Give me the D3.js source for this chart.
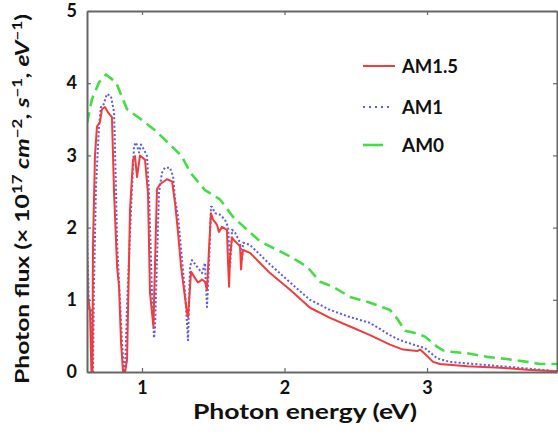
<!DOCTYPE html>
<html>
<head>
<meta charset="utf-8">
<script src="https://cdn.jsdelivr.net/npm/d3@7"></script>
<style>
  html, body { margin: 0; padding: 0; background: #fff; }
  svg { display: block; }
  text { font-family: Lato, "Open Sans", "Liberation Sans", sans-serif; font-weight: bold; fill: #111; }
</style>
</head>
<body>
<svg id="chart" width="558" height="439"></svg>
<script>
// ---- data (photon energy in eV, photon flux in 1e17 cm^-2 s^-1 eV^-1) ----
const am15 = [
  [0.614,1.69],[0.621,1.05],[0.635,0.85],[0.645,0.0],[0.652,0.0],[0.656,1.74],[0.670,3.0],
  [0.684,3.40],[0.705,3.46],[0.719,3.64],[0.740,3.67],[0.760,3.60],[0.789,3.53],[0.804,2.48],
  [0.825,1.46],[0.839,1.18],[0.853,0.4],[0.867,0.0],[0.881,0.0],[0.895,0.17],[0.916,2.25],
  [0.937,2.94],[0.951,2.99],[0.965,2.70],[0.986,3.0],[1.021,2.94],[1.042,2.48],[1.056,1.1],
  [1.080,0.63],[1.105,2.53],[1.126,2.6],[1.175,2.67],[1.211,2.64],[1.232,2.34],[1.253,1.93],
  [1.274,1.46],[1.288,1.24],[1.316,0.82],[1.323,0.76],[1.344,1.39],[1.372,1.3],[1.393,1.24],
  [1.421,1.28],[1.442,1.25],[1.456,1.14],[1.470,1.7],[1.484,2.2],[1.498,2.11],[1.526,2.04],
  [1.540,1.94],[1.561,2.01],[1.596,1.97],[1.604,1.5],[1.611,1.18],[1.618,1.6],[1.632,1.86],
  [1.653,1.81],[1.688,1.74],[1.695,1.42],[1.702,1.6],[1.709,1.69],[1.758,1.65],[1.828,1.51],
  [1.898,1.37],[2.039,1.14],[2.179,0.89],[2.319,0.75],[2.460,0.63],[2.600,0.51],[2.740,0.38],
  [2.832,0.31],[2.881,0.30],[2.930,0.29],[2.951,0.31],[2.986,0.25],[3.042,0.14],[3.091,0.11],
  [3.281,0.08],[3.512,0.06],[3.702,0.03],[3.912,0.01]
];
const am1 = [
  [0.614,2.0],[0.621,1.4],[0.628,0.86],[0.642,0.86],[0.649,0.0],[0.656,0.0],[0.663,1.2],
  [0.677,2.57],[0.698,3.4],[0.712,3.67],[0.726,3.68],[0.754,3.85],[0.782,3.82],[0.804,3.6],
  [0.818,2.48],[0.825,1.79],[0.860,0.4],[0.874,0.0],[0.881,0.0],[0.895,0.9],[0.923,2.25],
  [0.944,3.13],[0.958,3.18],[0.979,3.04],[0.993,3.15],[1.014,3.08],[1.035,2.99],[1.049,2.48],
  [1.070,1.1],[1.084,0.47],[1.091,0.6],[1.119,2.48],[1.140,2.76],[1.161,2.83],[1.196,2.83],
  [1.218,2.71],[1.232,2.39],[1.253,2.15],[1.281,1.55],[1.302,1.1],[1.323,0.44],[1.337,1.46],
  [1.351,1.55],[1.386,1.46],[1.421,1.37],[1.442,1.51],[1.456,0.9],[1.470,1.5],[1.484,2.29],
  [1.491,2.29],[1.512,2.2],[1.547,2.18],[1.582,2.11],[1.604,2.01],[1.618,1.46],[1.632,1.97],
  [1.653,1.93],[1.688,1.79],[1.702,1.55],[1.709,1.79],[1.758,1.76],[1.898,1.49],[2.039,1.24],
  [2.179,1.0],[2.319,0.86],[2.460,0.76],[2.600,0.68],[2.740,0.51],[2.811,0.44],[2.951,0.35],
  [2.986,0.33],[3.070,0.19],[3.161,0.14],[3.393,0.10],[3.632,0.06],[3.912,0.01]
];
const am0 = [
  [0.614,3.45],[0.649,3.78],[0.698,4.01],[0.747,4.12],[0.818,4.01],[0.895,3.64],[0.993,3.5],
  [1.084,3.36],[1.175,3.19],[1.274,3.0],[1.344,2.75],[1.442,2.52],[1.547,2.39],[1.638,2.15],
  [1.737,1.97],[1.828,1.81],[2.039,1.6],[2.158,1.46],[2.249,1.25],[2.340,1.18],[2.460,1.04],
  [2.600,0.96],[2.740,0.86],[2.790,0.74],[2.846,0.57],[2.916,0.54],[2.986,0.49],[3.070,0.35],
  [3.112,0.30],[3.161,0.28],[3.281,0.26],[3.421,0.21],[3.561,0.18],[3.702,0.14],[3.793,0.11],
  [3.912,0.11]
];
const seriesNames = ["AM1.5", "AM1", "AM0"];
const xTicks = [1, 2, 3];
const yTicks = [0, 1, 2, 3, 4, 5];

// ---- layout ----
const svg = d3.select("#chart");
const L = 87, R = 557, T = 11, B = 372;
const x = d3.scaleLinear().domain([0.614, 3.912]).range([L, R]);
const y = d3.scaleLinear().domain([0, 5]).range([B, T]);

const styles = {
  "AM1.5": { color: "#f23c3c", dash: null, width: 2 },
  "AM1":   { color: "#5a5ae6", dash: "2,2.2", width: 2 },
  "AM0":   { color: "#44dd44", dash: "11,6", width: 2.6 }
};
const dataMap = { "AM1.5": am15, "AM1": am1, "AM0": am0 };

svg.append("defs").append("clipPath").attr("id", "clip")
  .append("rect").attr("x", L).attr("y", T).attr("width", R - L).attr("height", B - T);

const line = d3.line().x(d => x(d[0])).y(d => y(d[1]));
const g = svg.append("g").attr("clip-path", "url(#clip)");
["AM0", "AM1", "AM1.5"].forEach(name => {
  const s = styles[name];
  g.append("path").datum(dataMap[name])
    .attr("d", line).attr("fill", "none")
    .attr("stroke", s.color).attr("stroke-width", s.width)
    .attr("stroke-dasharray", s.dash)
    .attr("stroke-linejoin", "round");
});

// ---- axes (frame with inward ticks) ----
const axisColor = "#666";
const fmt = d3.format("d");
const axB = svg.append("g").attr("transform", `translate(0,${B})`)
  .call(d3.axisBottom(x).tickValues(xTicks).tickFormat(fmt).tickSizeInner(-4).tickSizeOuter(0).tickPadding(9));
const axT = svg.append("g").attr("transform", `translate(0,${T})`)
  .call(d3.axisTop(x).tickValues(xTicks).tickFormat("").tickSizeInner(-4).tickSizeOuter(0));
const axL = svg.append("g").attr("transform", `translate(${L},0)`)
  .call(d3.axisLeft(y).tickValues(yTicks).tickFormat(fmt).tickSizeInner(-4).tickSizeOuter(0).tickPadding(10));
const axR = svg.append("g").attr("transform", `translate(${R},0)`)
  .call(d3.axisRight(y).tickValues(yTicks).tickFormat("").tickSizeInner(-4).tickSizeOuter(0));
[axB, axT, axL, axR].forEach(a => {
  a.select(".domain").attr("stroke", axisColor).attr("stroke-width", 2);
  a.selectAll(".tick line").attr("stroke", axisColor).attr("stroke-width", 1.2);
  a.selectAll("text").style("font-size", "18px").style("font-weight", "bold")
    .style("font-family", "Lato, sans-serif").attr("fill", "#111");
});

// ---- axis titles ----
svg.append("text").attr("x", 305).attr("y", 419).attr("text-anchor", "middle")
  .attr("textLength", 224).attr("lengthAdjust", "spacingAndGlyphs")
  .style("font-size", "21px").text("Photon energy (eV)");

const yl = svg.append("text").attr("transform", "translate(29,199) rotate(-90)")
  .attr("text-anchor", "middle").style("font-size", "19px")
  .attr("textLength", 370).attr("lengthAdjust", "spacingAndGlyphs");
yl.append("tspan").text("Photon flux (× 10");
yl.append("tspan").attr("dy", -7).style("font-size", "13px").text("17");
yl.append("tspan").attr("dy", 7).style("font-style", "italic").text(" cm");
yl.append("tspan").attr("dy", -7).style("font-size", "13px").text("−2");
yl.append("tspan").attr("dy", 7).style("font-style", "italic").text(", s");
yl.append("tspan").attr("dy", -7).style("font-size", "13px").text("−1");
yl.append("tspan").attr("dy", 7).style("font-style", "italic").text(", eV");
yl.append("tspan").attr("dy", -7).style("font-size", "13px").text("−1");
yl.append("tspan").attr("dy", 7).text(")");

// ---- legend ----
const lg = svg.append("g");
const legendY = [66, 107, 145];
const legendLen = { "AM1.5": 32, "AM1": 28, "AM0": 20 };
const legendTextLen = { "AM1.5": 56, "AM1": 41, "AM0": 42 };
seriesNames.forEach((name, i) => {
  const s = styles[name];
  lg.append("line").attr("x1", 363).attr("x2", 363 + legendLen[name])
    .attr("y1", legendY[i]).attr("y2", legendY[i])
    .attr("stroke", s.color).attr("stroke-width", s.width)
    .attr("stroke-dasharray", name === "AM1" ? "2,4" : null);
  lg.append("text").attr("x", 402).attr("y", legendY[i] + 7)
    .attr("textLength", legendTextLen[name]).attr("lengthAdjust", "spacingAndGlyphs")
    .style("font-size", "18px").text(name);
});
</script>
</body>
</html>
